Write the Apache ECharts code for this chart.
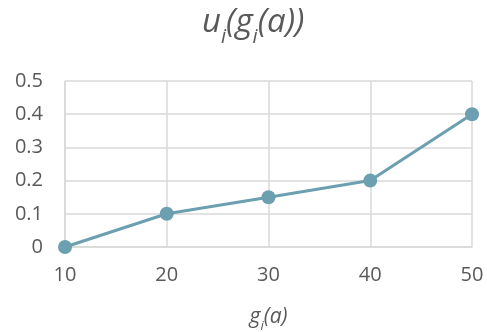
<!DOCTYPE html>
<html>
<head>
<meta charset="utf-8">
<script src="https://cdn.jsdelivr.net/npm/echarts@6/dist/echarts.min.js"></script>
<style>
  html, body { margin: 0; padding: 0; background: #fff; }
  #chart { width: 487px; height: 332px; }
</style>
</head>
<body>
<div id="chart"></div>
<script>
// Utility values u_i for each level of g_i(a)
const gValues = [10, 20, 30, 40, 50];
const uValues = [0, 0.1, 0.15, 0.2, 0.4];
const yTicks = [0, 0.1, 0.2, 0.3, 0.4, 0.5];

const lineColor = '#6c9fb0';
const gridColor = '#d9d9d9';
const textColor = '#595959';
const fontFamily = '"Open Sans", Lato, sans-serif';

function italicStyle(size) {
  return { fontSize: size, fontStyle: 'italic', fontWeight: 'normal', color: textColor, fontFamily: fontFamily };
}

// Main glyphs sit at the top of the line box; subscripts are pushed down by top padding
function mathRich(size, subSize, drop) {
  return {
    m: Object.assign(italicStyle(size), { verticalAlign: 'top', lineHeight: size * 1.2 }),
    s: Object.assign(italicStyle(subSize), { verticalAlign: 'top', lineHeight: subSize * 1.2, padding: [drop, 0, 0, 0] })
  };
}

const chart = echarts.init(document.getElementById('chart'));
chart.setOption({
  animation: false,
  title: {
    text: '{m|u}{s|i}{m|(g}{s|i}{m|(a))}',
    left: 197,
    top: 1,
    textStyle: Object.assign(italicStyle(33), { rich: mathRich(33, 20, 21) })
  },
  grid: { left: 65, right: 15, top: 81, bottom: 85, outerBoundsMode: 'none', containLabel: false },
  xAxis: {
    type: 'value',
    min: gValues[0],
    max: gValues[gValues.length - 1],
    interval: 10,
    name: '{m|g}{s|i}{m|(a)}',
    nameLocation: 'middle',
    nameGap: 60,
    nameTextStyle: Object.assign(italicStyle(21), { rich: mathRich(21, 13, 13) }),
    axisLine: { show: true, lineStyle: { color: gridColor, width: 1.5 } },
    axisTick: { show: false },
    axisLabel: { color: textColor, fontSize: 20, fontFamily: fontFamily, margin: 18 },
    splitLine: { show: true, lineStyle: { color: gridColor, width: 1.5 } }
  },
  yAxis: {
    type: 'value',
    min: yTicks[0],
    max: yTicks[yTicks.length - 1],
    interval: 0.1,
    axisLine: { show: true, lineStyle: { color: gridColor, width: 1.5 } },
    axisTick: { show: false },
    axisLabel: { color: textColor, fontSize: 20, fontFamily: fontFamily, margin: 22 },
    splitLine: { show: true, lineStyle: { color: gridColor, width: 1.5 } }
  },
  series: [{
    type: 'line',
    data: gValues.map((g, i) => [g, uValues[i]]),
    symbol: 'circle',
    symbolSize: 14,
    lineStyle: { color: lineColor, width: 3 },
    itemStyle: { color: lineColor },
    clip: false
  }]
});
</script>
</body>
</html>
